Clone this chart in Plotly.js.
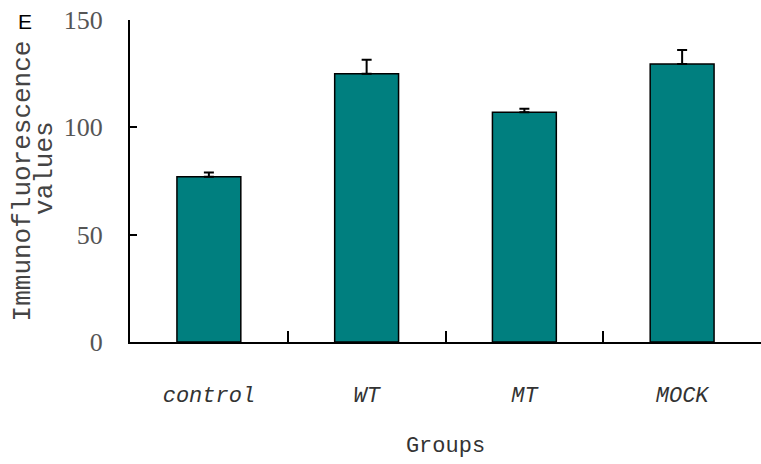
<!DOCTYPE html>
<html>
<head>
<meta charset="utf-8">
<script src="https://cdn.plot.ly/plotly-3.0.1.min.js"></script>
<style>html,body{margin:0;padding:0;background:#fff;}#chart{width:761px;height:464px;}</style>
</head>
<body>
<div id="chart"></div>
<script>
const groups = ["control", "WT", "MT", "MOCK"];
const values = [77, 125, 107, 129.5];
const errors = [2, 6.5, 1.7, 6.5];
const errorsMinus = [0, 0, 0, 0];
const yTicks = [0, 50, 100, 150];

const trace = {
  type: "bar",
  x: groups,
  y: values,
  width: 0.405,
  marker: {color: "#007F7F", line: {color: "#000", width: 1.5}},
  error_y: {type: "data", symmetric: false, array: errors, arrayminus: errorsMinus, visible: true, color: "#000", thickness: 2, width: 5}
};

const layout = {
  width: 761, height: 464,
  margin: {l: 130, r: 0, t: 20, b: 122},
  paper_bgcolor: "#fff", plot_bgcolor: "#fff",
  showlegend: false,
  xaxis: {
    type: "category",
    range: [-0.5, 3.5],
    tickson: "boundaries",
    ticks: "inside", ticklen: 11, tickwidth: 2, tickcolor: "#000",
    showline: true, linecolor: "#000", linewidth: 2,
    showgrid: false, zeroline: false,
    ticklabelstandoff: 32,
    tickfont: {family: "Liberation Mono", size: 22, color: "#333", style: "italic"},
    title: {text: "Groups", font: {family: "Liberation Mono", size: 22, color: "#333"}, standoff: 28}
  },
  yaxis: {
    range: [0, 150],
    tickvals: yTicks,
    ticks: "inside", ticklen: 7, tickwidth: 2, tickcolor: "#000",
    showline: true, linecolor: "#000", linewidth: 2,
    showgrid: false, zeroline: false,
    ticklabelstandoff: 20,
    tickfont: {family: "Liberation Serif", size: 26, color: "#555"},
    title: {text: "Immunofluorescence", font: {family: "Liberation Mono", size: 26, color: "#444"}, standoff: 26}
  },
  annotations: [
    {text: "values", xref: "paper", yref: "paper", x: -0.135, y: 0.54, xanchor: "center", yanchor: "middle",
     textangle: -90, showarrow: false, font: {family: "Liberation Mono", size: 26, color: "#444"}},
    {text: "E", xref: "paper", yref: "paper", x: -0.166, y: 0.994, xanchor: "center", yanchor: "middle",
     showarrow: false, font: {family: "Liberation Sans", size: 21, color: "#000"}}
  ]
};

Plotly.newPlot("chart", [trace], layout, {displayModeBar: false, staticPlot: true});
</script>
</body>
</html>
